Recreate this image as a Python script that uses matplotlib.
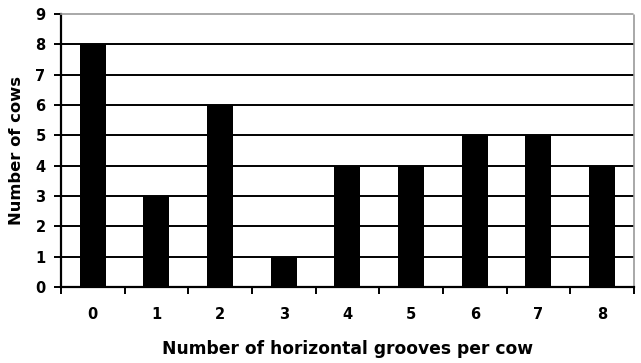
import matplotlib
matplotlib.use("Agg")
import matplotlib.pyplot as plt
import numpy as np

# grooves per cow vs number of cows
grooves = [0, 1, 2, 3, 4, 5, 6, 7, 8]
cows = [8, 3, 6, 1, 4, 4, 5, 5, 4]

plt.rcParams['font.family'] = ['DejaVu Sans']

fig = plt.figure(figsize=(6.41, 3.63), dpi=100)
ax = fig.add_axes([0.095, 0.209, 0.894, 0.752])

x = np.arange(len(grooves))
ax.bar(x, cows, width=0.41, color='black', zorder=3)

ax.set_xlim(-0.5, len(grooves) - 0.5)
ax.set_ylim(0, 9)
ax.set_yticks(range(0, 10))
for y in range(1, 9):
    ax.axhline(y, color='black', lw=1.4, zorder=1)

ax.set_xticks(x)
ax.set_xticklabels([str(g) for g in grooves])
ax.set_xticks(np.arange(-0.5, len(grooves)), minor=True)
ax.tick_params(axis='x', which='major', length=0, pad=14, labelsize=10.5)
ax.tick_params(axis='x', which='minor', length=5, width=1.4, direction='out')
ax.tick_params(axis='y', length=5, width=1.4, labelsize=10.5, pad=6)
for lab in ax.get_xticklabels() + ax.get_yticklabels():
    lab.set_fontweight('bold')

ax.spines['left'].set_linewidth(1.6)
ax.spines['bottom'].set_linewidth(1.6)
for s in ['top', 'right']:
    ax.spines[s].set_color('#999999')
    ax.spines[s].set_linestyle((0, (1, 1)))
    ax.spines[s].set_linewidth(1.2)

ax.set_xlabel('Number of horizontal grooves per cow', fontsize=12.3, fontweight='bold', labelpad=13)
ax.set_ylabel('Number of cows', fontsize=11.8, fontweight='bold', labelpad=8)

fig.savefig('out.png', dpi=100)
